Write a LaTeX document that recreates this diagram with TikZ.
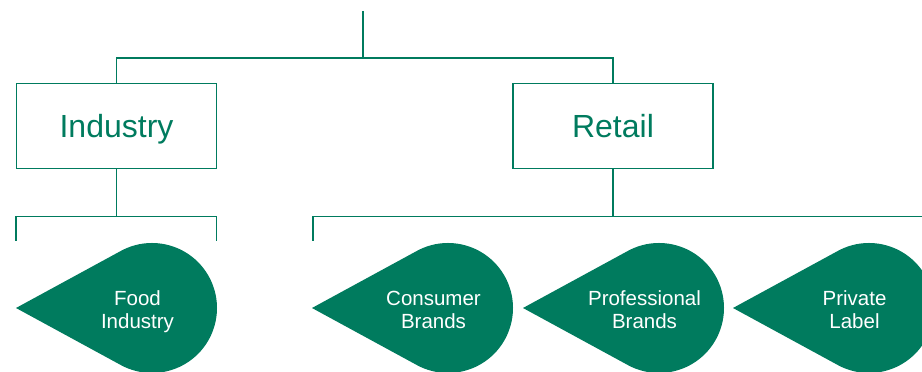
\documentclass[tikz,border=0pt]{standalone}
\usepackage{fontspec}
\setmainfont{Liberation Sans}
\usetikzlibrary{positioning}

\definecolor{leaf}{RGB}{0,123,94}

% teardrop pointing left, tip at #1
\newcommand{\leafdrop}[1]{\fill[leaf] (#1) -- ++(28.55:119.46) arc[start angle=118.55, end angle=-118.55, radius=65] -- cycle;}

\begin{document}
\begin{tikzpicture}[x=1pt, y=1pt, node distance=295.2pt,
        box/.style={rectangle, draw=leaf, line width=1.3pt, minimum width=200pt, minimum height=85pt, text=leaf, text depth=0pt, font=\fontsize{32}{36}\selectfont},
        droptext/.style={align=center, text=white, text depth=0pt, font=\fontsize{20.5}{23}\selectfont},
        link/.style={draw=leaf, line width=1.3pt}]
        \useasboundingbox (0,0) rectangle (922,372);
        \clip (0,0) rectangle (922,372);

        %-----Boxes-----

        % Industry Box
        \node[box] (industry) at (116.5,246) {Industry};

        % Retail Box
        \node[box, right=of industry] (retail) {Retail};

        %-----Drops-----
        \coordinate (foodtip) at (16,64);
        \coordinate (constip) at (312,64);
        \coordinate (proftip) at (523,64);
        \coordinate (privtip) at (733,64);

        \leafdrop{foodtip}
        \leafdrop{constip}
        \leafdrop{proftip}
        \leafdrop{privtip}

        \node[droptext] (food) at (137.5,62) {Food\\Industry};
        \node[droptext] (consumer) at (433.5,62) {Consumer\\Brands};
        \node[droptext] (professional) at (644.5,62) {Professional\\Brands};
        \node[droptext] (private) at (854.5,62) {Private\\Label};

        %-----Connectors-----

        % Root to Industry and Retail
        \coordinate (root) at (363,361);
        \coordinate (hub) at (363,314);
        \draw[link] (root) -- (hub);
        \draw[link] (industry.north) |- (hub) -| (retail.north);

        % Industry to its drops
        \coordinate (foodl) at (16,131);
        \coordinate (foodr) at (216.5,131);
        \draw[link] (industry.south) -- ++(0,-47.5) coordinate (ibar);
        \draw[link] (foodl) |- (ibar) -| (foodr);

        % Retail to its drops
        \coordinate (consl) at (313,131);
        \coordinate (privr) at (933,131);
        \draw[link] (retail.south) -- ++(0,-47.5) coordinate (rbar);
        \draw[link] (consl) |- (rbar) -| (privr);

\end{tikzpicture}
\end{document}
